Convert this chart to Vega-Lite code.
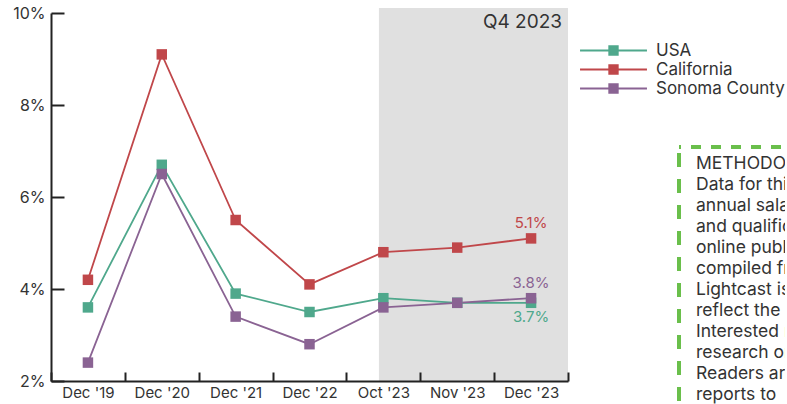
{
  "$schema": "https://vega.github.io/schema/vega-lite/v6.json",
  "background": "white",
  "padding": {"left": 12, "top": 5, "right": 0, "bottom": 0},
  "config": {
    "font": "Inter",
    "view": {"stroke": null},
    "axis": {"labelFont": "Inter", "labelColor": "#333333", "domainColor": "#222222", "tickColor": "#222222", "domainWidth": 2, "tickWidth": 2, "grid": false, "title": null}
  },
  "datasets": {
    "rates": [
      {"period": "Dec '19", "series": "USA", "value": 3.6},
      {"period": "Dec '20", "series": "USA", "value": 6.7},
      {"period": "Dec '21", "series": "USA", "value": 3.9},
      {"period": "Dec '22", "series": "USA", "value": 3.5},
      {"period": "Oct '23", "series": "USA", "value": 3.8},
      {"period": "Nov '23", "series": "USA", "value": 3.7},
      {"period": "Dec '23", "series": "USA", "value": 3.7},
      {"period": "Dec '19", "series": "California", "value": 4.2},
      {"period": "Dec '20", "series": "California", "value": 9.1},
      {"period": "Dec '21", "series": "California", "value": 5.5},
      {"period": "Dec '22", "series": "California", "value": 4.1},
      {"period": "Oct '23", "series": "California", "value": 4.8},
      {"period": "Nov '23", "series": "California", "value": 4.9},
      {"period": "Dec '23", "series": "California", "value": 5.1},
      {"period": "Dec '19", "series": "Sonoma County", "value": 2.4},
      {"period": "Dec '20", "series": "Sonoma County", "value": 6.5},
      {"period": "Dec '21", "series": "Sonoma County", "value": 3.4},
      {"period": "Dec '22", "series": "Sonoma County", "value": 2.8},
      {"period": "Oct '23", "series": "Sonoma County", "value": 3.6},
      {"period": "Nov '23", "series": "Sonoma County", "value": 3.7},
      {"period": "Dec '23", "series": "Sonoma County", "value": 3.8}
    ],
    "method": [
      {"line": 0, "text": "METHODOLOGY"},
      {"line": 1, "text": "Data for this report"},
      {"line": 2, "text": "annual salary estimates"},
      {"line": 3, "text": "and qualifications"},
      {"line": 4, "text": "online publications"},
      {"line": 5, "text": "compiled from"},
      {"line": 6, "text": "Lightcast is"},
      {"line": 7, "text": "reflect the"},
      {"line": 8, "text": "Interested readers"},
      {"line": 9, "text": "research on"},
      {"line": 10, "text": "Readers are"},
      {"line": 11, "text": "reports to"}
    ]
  },
  "bounds": "flush",
  "spacing": 111,
  "hconcat": [
    {
      "width": 517,
      "height": 368,
      "layer": [
        {
          "data": {"values": [{"label": "Q4 2023"}]},
          "layer": [
            {
              "mark": {"type": "rect", "color": "#E0E0E0"},
              "encoding": {
                "x": {"datum": "Oct '23", "type": "ordinal", "bandPosition": 0.44},
                "x2": {"value": "width"},
                "y": {"datum": 10.11, "type": "quantitative"},
                "y2": {"datum": 2}
              }
            },
            {
              "mark": {"type": "text", "align": "right", "baseline": "middle", "fontSize": 19, "color": "#333333", "dx": -6},
              "encoding": {
                "x": {"datum": "Dec '23", "type": "ordinal", "bandPosition": 1},
                "y": {"datum": 9.8, "type": "quantitative"},
                "text": {"field": "label"}
              }
            }
          ]
        },
        {
          "data": {"name": "rates"},
          "mark": {"type": "line", "strokeWidth": 1.8},
          "encoding": {
            "x": {"field": "period", "type": "ordinal", "sort": ["Dec '19", "Dec '20", "Dec '21", "Dec '22", "Oct '23", "Nov '23", "Dec '23"],
              "scale": {"type": "band", "domain": ["Dec '19", "Dec '20", "Dec '21", "Dec '22", "Oct '23", "Nov '23", "Dec '23"], "paddingInner": 0, "paddingOuter": 0},
              "axis": {"tickBand": "extent", "tickSize": -9, "labelPadding": 20, "labelAngle": 0, "labelAlign": "center", "labelFontSize": 15}},
            "y": {"field": "value", "type": "quantitative",
              "scale": {"domain": [2, 10], "nice": false, "zero": false},
              "axis": {"values": [2, 4, 6, 8, 10], "labelExpr": "datum.value + '%'", "tickSize": -13, "labelPadding": 19, "labelFontSize": 16}},
            "color": {"field": "series", "type": "nominal",
              "scale": {"domain": ["USA", "California", "Sonoma County"], "range": ["#4FA88C", "#C0474A", "#8A6393"]},
              "legend": {"orient": "none", "legendX": 554, "legendY": 29, "title": null, "symbolType": "M-8,0H8M-1,-1H1V1H-1Z", "symbolSize": 70, "symbolStrokeWidth": 2, "labelFontSize": 17, "labelColor": "#333333", "labelOffset": 34, "rowPadding": 1,
                "encode": {"symbols": {"update": {"fill": {"scale": "color", "field": "value"}, "stroke": {"scale": "color", "field": "value"}, "opacity": {"value": 1}}}}}}
          }
        },
        {
          "data": {"name": "rates"},
          "mark": {"type": "square", "size": 110, "filled": true, "opacity": 1},
          "encoding": {
            "x": {"field": "period", "type": "ordinal"},
            "y": {"field": "value", "type": "quantitative"},
            "color": {"field": "series", "type": "nominal"}
          }
        },
        {
          "data": {"name": "rates"},
          "transform": [
            {"filter": "datum.period == \"Dec '23\" && datum.series != 'USA'"},
            {"calculate": "format(datum.value, '.1f') + '%'", "as": "label"}
          ],
          "mark": {"type": "text", "fontSize": 15, "baseline": "middle", "dy": -15},
          "encoding": {
            "x": {"field": "period", "type": "ordinal"},
            "y": {"field": "value", "type": "quantitative"},
            "color": {"field": "series", "type": "nominal"},
            "text": {"field": "label"}
          }
        },
        {
          "data": {"name": "rates"},
          "transform": [
            {"filter": "datum.period == \"Dec '23\" && datum.series == 'USA'"},
            {"calculate": "format(datum.value, '.1f') + '%'", "as": "label"}
          ],
          "mark": {"type": "text", "fontSize": 15, "baseline": "middle", "dy": 14},
          "encoding": {
            "x": {"field": "period", "type": "ordinal"},
            "y": {"field": "value", "type": "quantitative"},
            "color": {"field": "series", "type": "nominal"},
            "text": {"field": "label"}
          }
        }
      ]
    },
    {
      "bounds": "flush",
      "spacing": 133,
      "vconcat": [
        {"data": {"values": []}, "mark": "point", "width": 10, "height": 1},
        {
          "width": 106,
          "height": 257,
          "data": {"name": "method"},
          "layer": [
            {
              "mark": {"type": "rule", "color": "#6ABF4B", "strokeWidth": 4, "strokeDash": [10, 10], "strokeDashOffset": 16},
              "encoding": {"y": {"datum": -0.81, "type": "quantitative", "scale": {"domain": [-0.81, 11.43], "reverse": true, "nice": false, "zero": false}, "axis": null}}
            },
            {
              "mark": {"type": "rule", "color": "#6ABF4B", "strokeWidth": 4, "strokeDash": [14, 12], "strokeDashOffset": 20},
              "encoding": {"x": {"datum": 0, "type": "quantitative", "scale": {"domain": [0, 1], "nice": false, "zero": false}, "axis": null}}
            },
            {
              "mark": {"type": "text", "align": "left", "baseline": "middle", "fontSize": 17.5, "color": "#333333", "dx": 17, "clip": true},
              "encoding": {
                "x": {"datum": 0, "type": "quantitative", "axis": null},
                "y": {"field": "line", "type": "quantitative", "axis": null},
                "text": {"field": "text"}
              }
            }
          ]
        }
      ]
    }
  ]
}
